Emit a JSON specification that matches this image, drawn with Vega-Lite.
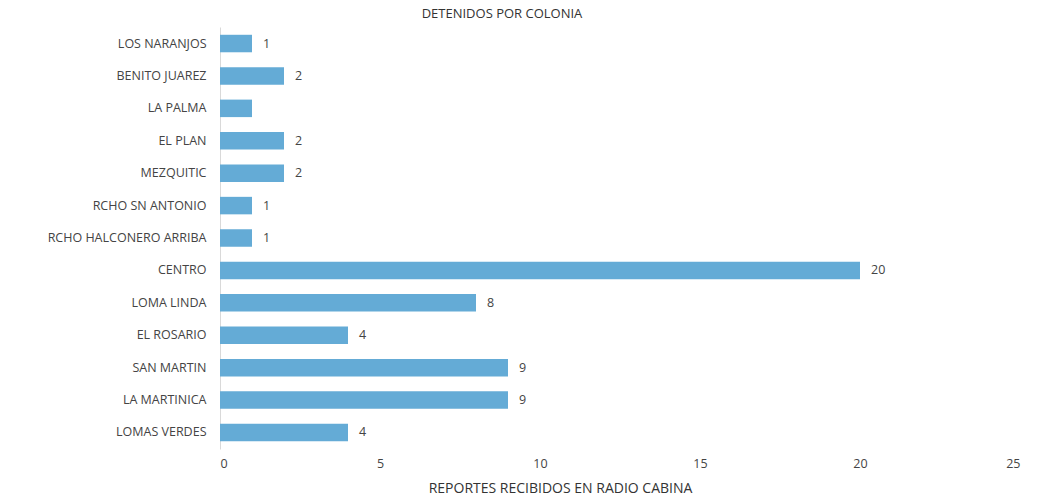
{
  "$schema": "https://vega.github.io/schema/vega-lite/v6.json",
  "width": 800,
  "height": 422,
  "autosize": {"type": "none"},
  "padding": {"left": 220, "top": 27, "right": 17, "bottom": 48},
  "background": "#ffffff",
  "title": {
    "text": "DETENIDOS POR COLONIA",
    "font": "Open Sans",
    "fontSize": 13,
    "fontWeight": "normal",
    "color": "#333333",
    "anchor": "middle",
    "dx": -118,
    "offset": 6
  },
  "config": {
    "view": {"stroke": null},
    "font": "Open Sans"
  },
  "data": {
    "values": [
      {"colonia": "LOS NARANJOS", "detenidos": 1, "etiqueta": "1"},
      {"colonia": "BENITO JUAREZ", "detenidos": 2, "etiqueta": "2"},
      {"colonia": "LA PALMA", "detenidos": 1, "etiqueta": ""},
      {"colonia": "EL PLAN", "detenidos": 2, "etiqueta": "2"},
      {"colonia": "MEZQUITIC", "detenidos": 2, "etiqueta": "2"},
      {"colonia": "RCHO SN ANTONIO", "detenidos": 1, "etiqueta": "1"},
      {"colonia": "RCHO HALCONERO ARRIBA", "detenidos": 1, "etiqueta": "1"},
      {"colonia": "CENTRO", "detenidos": 20, "etiqueta": "20"},
      {"colonia": "LOMA LINDA", "detenidos": 8, "etiqueta": "8"},
      {"colonia": "EL ROSARIO", "detenidos": 4, "etiqueta": "4"},
      {"colonia": "SAN MARTIN", "detenidos": 9, "etiqueta": "9"},
      {"colonia": "LA MARTINICA", "detenidos": 9, "etiqueta": "9"},
      {"colonia": "LOMAS VERDES", "detenidos": 4, "etiqueta": "4"}
    ]
  },
  "encoding": {
    "y": {
      "field": "colonia",
      "type": "nominal",
      "sort": null,
      "scale": {"paddingInner": 0.46, "paddingOuter": 0.24},
      "axis": {
        "title": null,
        "ticks": false,
        "domainColor": "#d9d9d9",
        "labelFontSize": 12.5,
        "labelColor": "#444444",
        "labelPadding": 14
      }
    },
    "x": {
      "field": "detenidos",
      "type": "quantitative",
      "scale": {"domain": [0, 25], "nice": false},
      "axis": {
        "values": [0, 5, 10, 15, 20, 25],
        "grid": false,
        "domain": false,
        "ticks": false,
        "labelFontSize": 12.5,
        "labelColor": "#444444",
        "labelPadding": 8,
        "title": "REPORTES RECIBIDOS EN RADIO CABINA",
        "titleFontSize": 14,
        "titleFontWeight": "normal",
        "titleColor": "#333333",
        "titlePadding": 12,
        "titleX": 340
      }
    }
  },
  "layer": [
    {"mark": {"type": "bar", "color": "#64abd6"}},
    {
      "mark": {"type": "text", "align": "left", "dx": 11, "fontSize": 12.5, "color": "#444444"},
      "encoding": {"text": {"field": "etiqueta"}}
    }
  ]
}
